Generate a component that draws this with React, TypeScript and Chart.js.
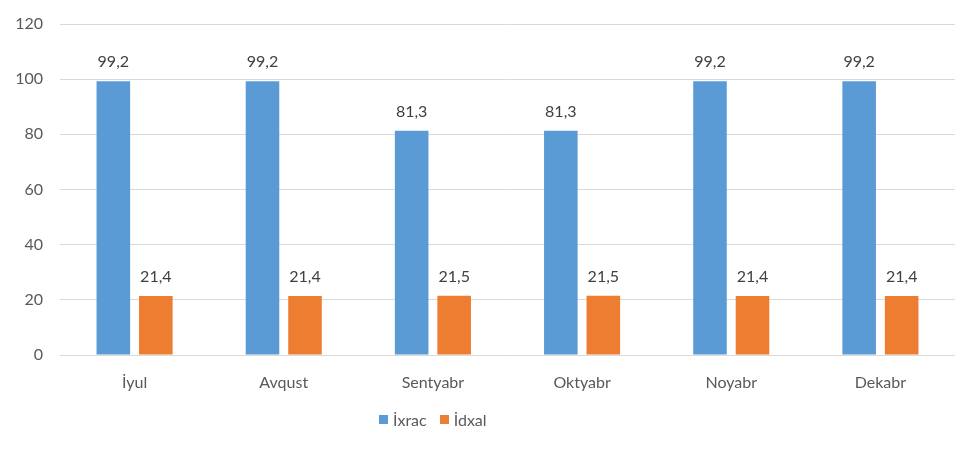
import { useEffect, useRef } from "react";
import { Chart, registerables } from "chart.js";

Chart.register(...registerables);

const months = ["İyul", "Avqust", "Sentyabr", "Oktyabr", "Noyabr", "Dekabr"];
const exportValues = [99.2, 99.2, 81.3, 81.3, 99.2, 99.2];
const importValues = [21.4, 21.4, 21.5, 21.5, 21.4, 21.4];
const seriesNames = ["İxrac", "İdxal"];
const seriesColors = ["#5B9BD5", "#ED7D31"];

const FONT = "Lato, 'Open Sans', sans-serif";

// value above each bar (decimal comma) and the light frame round the chart
const valueLabels = {
  id: "valueLabels",
  afterDatasetsDraw(chart: any) {
    const ctx = chart.ctx;
    ctx.save();
    ctx.font = `16px ${FONT}`;
    ctx.fillStyle = "#404040";
    ctx.textAlign = "center";
    ctx.textBaseline = "alphabetic";
    chart.data.datasets.forEach((ds: any, i: number) => {
      const meta = chart.getDatasetMeta(i);
      meta.data.forEach((bar: any, j: number) => {
        const text = String(ds.data[j]).replace(".", ",");
        ctx.fillText(text, bar.x, bar.y - 14);
      });
    });
    ctx.strokeStyle = "#D9D9D9";
    ctx.lineWidth = 2;
    ctx.strokeRect(1, 1, chart.width - 2, chart.height - 2);
    ctx.restore();
  },
};

const App = () => {
  const canvasRef = useRef<HTMLCanvasElement | null>(null);

  useEffect(() => {
    if (!canvasRef.current) return;
    const chart = new Chart(canvasRef.current, {
      type: "bar",
      data: {
        labels: months,
        datasets: [
          {
            label: seriesNames[0],
            data: exportValues,
            backgroundColor: seriesColors[0],
            categoryPercentage: 0.57,
            barPercentage: 0.79,
          },
          {
            label: seriesNames[1],
            data: importValues,
            backgroundColor: seriesColors[1],
            categoryPercentage: 0.57,
            barPercentage: 0.79,
          },
        ],
      },
      options: {
        responsive: false,
        animation: false,
        layout: { padding: { top: 24, left: 8, right: 24, bottom: 0 } },
        plugins: {
          legend: { display: false },
          tooltip: { enabled: false },
        },
        scales: {
          x: {
            grid: { display: false },
            border: { display: false },
            ticks: {
              color: "#595959",
              font: { family: FONT, size: 16 },
              padding: 10,
            },
            afterFit: (s: any) => {
              s.height = 97;
            },
          },
          y: {
            min: 0,
            max: 120,
            ticks: {
              stepSize: 20,
              color: "#595959",
              font: { family: FONT, size: 16 },
              padding: 17,
            },
            grid: { color: "#D9D9D9", lineWidth: 1, drawTicks: false },
            border: { display: false },
            afterFit: (s: any) => {
              s.width = 52;
              // tick padding would otherwise push the top gridline down
              s.paddingTop = 0;
              s.paddingBottom = 0;
            },
          },
        },
      },
      plugins: [valueLabels],
    });
    return () => {
      chart.destroy();
    };
  }, []);

  return (
    <div style={{ position: "relative", width: 979, height: 452, margin: -8, background: "#fff" }}>
      <canvas ref={canvasRef} width={979} height={452} style={{ display: "block" }} />
      <div
        style={{
          position: "absolute",
          left: 379,
          top: 410,
          display: "flex",
          alignItems: "center",
          fontFamily: FONT,
          fontSize: 16,
          color: "#595959",
        }}
      >
        {seriesNames.map((name, i) => (
          <span key={name} style={{ display: "flex", alignItems: "center", marginRight: 13 }}>
            <span
              style={{
                display: "inline-block",
                width: 9,
                height: 9,
                background: seriesColors[i],
                marginRight: 5,
              }}
            />
            {name}
          </span>
        ))}
      </div>
    </div>
  );
};

export default App;
